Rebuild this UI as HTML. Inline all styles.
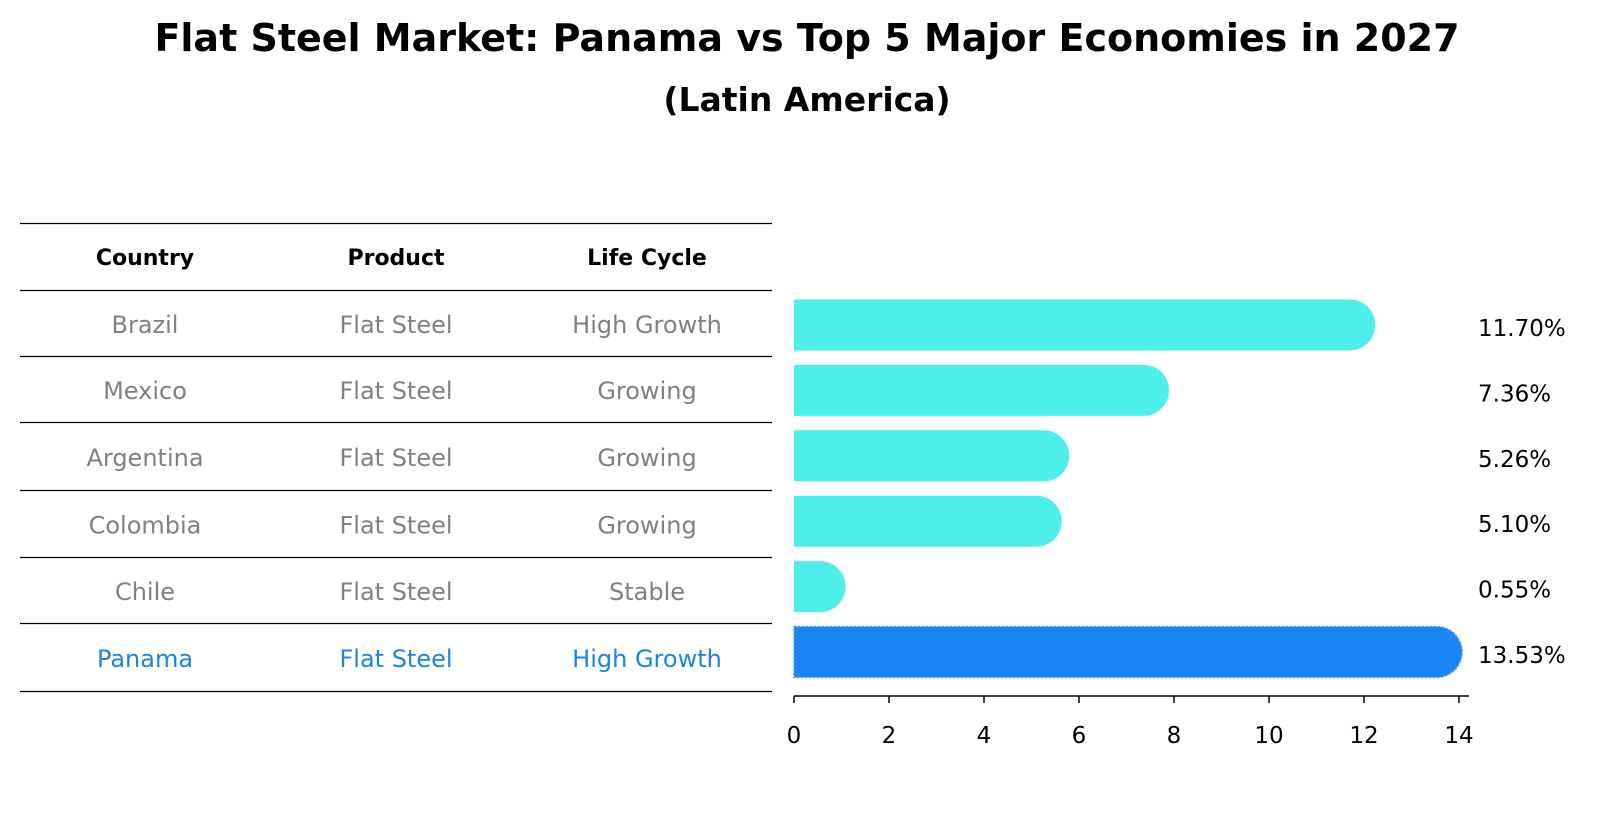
<!DOCTYPE html>
<html><head><meta charset="utf-8"><style>
body{margin:0;background:#fff;}
svg text{font-family:"DejaVu Sans","Liberation Sans",sans-serif;}
</style></head><body>
<svg id="c" width="1604" height="823" viewBox="0 0 1604 823" xmlns="http://www.w3.org/2000/svg">
<text x="807" y="51" text-anchor="middle" font-size="38" font-weight="bold">Flat Steel Market: Panama vs Top 5 Major Economies in 2027</text>
<text x="807" y="111" text-anchor="middle" font-size="33" font-weight="bold">(Latin America)</text>
<g id="tbl"></g>
<g id="bars"></g>
<g id="axis"></g>
</svg>
<script>
const countries=["Brazil","Mexico","Argentina","Colombia","Chile","Panama"];
const products=["Flat Steel","Flat Steel","Flat Steel","Flat Steel","Flat Steel","Flat Steel"];
const lifecycle=["High Growth","Growing","Growing","Growing","Stable","High Growth"];
const values=[11.70,7.36,5.26,5.10,0.55,13.53];
const ticks=[0,2,4,6,8,10,12,14];
const NS="http://www.w3.org/2000/svg";
function mk(t,a,p){const e=document.createElementNS(NS,t);for(const k in a)e.setAttribute(k,a[k]);p.appendChild(e);return e;}
const x0=794,px=47.5;
const xs=v=>x0+v*px;
const rowY=i=>325+i*65.4;
const tbl=document.getElementById('tbl'),bars=document.getElementById('bars'),axis=document.getElementById('axis');
const lines=[223,290,356,422,490,557,623,691];
lines.forEach((y,i)=>{const l=mk('line',{x1:20,x2:772,y1:y+0.5,y2:y+0.5,stroke:'#000','stroke-width':1.2},tbl);

});
const cx=[145,396,647];
["Country","Product","Life Cycle"].forEach((h,j)=>{const t=mk('text',{x:cx[j],y:265,'text-anchor':'middle','font-size':22,'font-weight':'bold'},tbl);t.textContent=h;

});
countries.forEach((c,i)=>{
 const col=i===5?'#1a84e0':'#808080';
 const cy=(lines[i+1]+lines[i+2])/2+10;
 [c,products[i],lifecycle[i]].forEach((s,j)=>{const t=mk('text',{x:cx[j],y:cy,'text-anchor':'middle','font-size':24,fill:col},tbl);t.textContent=s;
 
 });
 const y=rowY(i),h=51,r=25.5,xe=xs(values[i]);
 const fill=i===5?'#1a85f5':'#4eeeea';
 const p=mk('path',{d:`M${x0},${y-h/2} L${xe},${y-h/2} A${r},${r} 0 0 1 ${xe},${y+h/2} L${x0},${y+h/2} Z`,fill:fill},bars);
 if(i===5){p.setAttribute('stroke','#4aa0f8');p.setAttribute('stroke-dasharray','2 2');p.setAttribute('stroke-width','1.5');}
 
 
 const t=mk('text',{x:1478,y:y+11,'font-size':23},bars);t.textContent=values[i].toFixed(2)+'%';
 
 
});
const al=mk('line',{x1:x0,x2:1469,y1:696,y2:696,stroke:'#000','stroke-width':1.5},axis);


ticks.forEach(v=>{const tl=mk('line',{x1:xs(v),x2:xs(v),y1:696,y2:703,stroke:'#000','stroke-width':1.5},axis);


const t=mk('text',{x:xs(v),y:743,'text-anchor':'middle','font-size':23},axis);t.textContent=v;

});
</script>
</body></html>
